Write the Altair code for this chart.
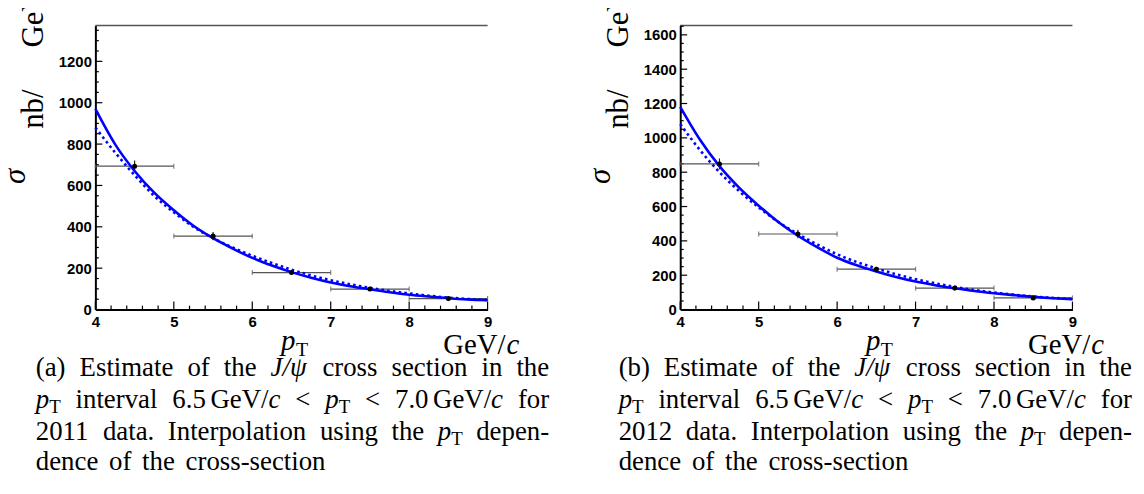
import altair as alt
import pandas as pd

W, H = 1136, 478          # whole canvas (svg) size
PLOT_TOP, PLOT_BOT = 16, 302
PLOT_W = 395

# ---------------- data ----------------
pt_bins = [4.5, 5.5, 6.5, 7.5, 8.5]
bin_half = [0.5, 0.5, 0.5, 0.5, 0.5]
sigma_2011 = [693, 355, 179, 99, 53]
err_2011 = [28, 20, 12, 7, 5]
sigma_2012 = [848, 440, 235, 125, 68]
err_2012 = [32, 25, 14, 8, 5]

curve_pt = [4.0, 4.25, 4.5, 4.75, 5.0, 5.25, 5.5, 5.75, 6.0, 6.25, 6.5,
            6.75, 7.0, 7.25, 7.5, 7.75, 8.0, 8.25, 8.5, 8.75, 9.0]
fit_2011 = [970, 800, 670, 565, 480, 405, 345, 295, 250, 213, 181,
            154, 131, 113, 98, 84, 72, 63, 55, 49, 45]
dot_2011 = [880, 760, 650, 550, 470, 400, 345, 300, 260, 225, 193,
            165, 142, 122, 105, 90, 78, 67, 58, 51, 46]
fit_2012 = [1180, 990, 835, 710, 605, 510, 430, 362, 302, 258, 222,
            190, 163, 142, 124, 108, 95, 84, 74, 66, 60]
dot_2012 = [1080, 930, 800, 690, 595, 510, 440, 378, 322, 277, 240,
            206, 177, 153, 132, 114, 99, 87, 76, 68, 62]

x_labels = [4, 5, 6, 7, 8, 9]
x_minor = [4.2, 4.4, 4.6, 4.8, 5.2, 5.4, 5.6, 5.8, 6.2, 6.4, 6.6, 6.8,
           7.2, 7.4, 7.6, 7.8, 8.2, 8.4, 8.6, 8.8]
y_labels_2011 = [0, 200, 400, 600, 800, 1000, 1200]
y_labels_2012 = [0, 200, 400, 600, 800, 1000, 1200, 1400, 1600]
ymax_2011 = 1373
ymax_2012 = 1654

SERIF = "Liberation Serif"
SANS = "Liberation Sans"


def panel(dx, sigma, err, fit, dot, ymax, ylabels):
    x0 = 88 + dx
    xsc = alt.Scale(domain=[4, 9], range=[x0, x0 + PLOT_W], nice=False, zero=False)
    ysc = alt.Scale(domain=[0, ymax], range=[PLOT_BOT, PLOT_TOP], nice=False, zero=False)
    common = dict(ticks=False, grid=False, title=None, domainColor="black",
                  domainWidth=2, labelFont=SANS, labelFontWeight="bold",
                  labelFontSize=15, labelColor="black", labelFlush=False)
    xax = alt.Axis(orient="bottom", offset=PLOT_BOT - H, values=x_labels,
                   format="d", labelPadding=5, **common)
    yax = alt.Axis(orient="left", offset=-x0, values=ylabels, format="d",
                   labelPadding=4, **common)

    def X(f):
        return alt.X(f"{f}:Q", scale=xsc, axis=xax)

    def Y(f):
        return alt.Y(f"{f}:Q", scale=ysc, axis=yax)

    pts = pd.DataFrame({"pt": pt_bins, "half": bin_half, "s": sigma, "e": err})
    pts["lo"] = pts["pt"] - pts["half"]
    pts["hi"] = pts["pt"] + pts["half"]
    pts["slo"] = pts["s"] - pts["e"]
    pts["shi"] = pts["s"] + pts["e"]
    edges = pd.DataFrame({"edge": list(pts["lo"]) + list(pts["hi"]),
                          "s": list(pts["s"]) * 2})
    curves = pd.DataFrame({"pt": curve_pt, "fit": fit, "dot": dot})

    base_pts = alt.Chart(pts)
    hbar = base_pts.mark_rule(color="#555555", strokeWidth=1.2).encode(
        x=X("lo"), x2="hi", y=Y("s"))
    vbar = base_pts.mark_rule(color="#222222", strokeWidth=1.2).encode(
        x=X("pt"), y=Y("slo"), y2="shi")
    caps = alt.Chart(edges).mark_tick(color="#555555", thickness=1.2, size=5,
                                      orient="vertical").encode(
        x=X("edge"), y=Y("s"))
    dots = base_pts.mark_point(filled=True, shape="circle", size=26,
                               color="black", opacity=1).encode(x=X("pt"), y=Y("s"))
    solid = alt.Chart(curves).mark_line(color="#0000ff", strokeWidth=2.6,
                                        interpolate="monotone").encode(
        x=X("pt"), y=Y("fit"))
    dotted = alt.Chart(curves).mark_line(color="#0000ff", strokeWidth=2.6,
                                         strokeDash=[2.6, 3.2],
                                         interpolate="monotone").encode(
        x=X("pt"), y=Y("dot"))

    # inward-pointing ROOT style ticks
    xmaj = alt.Chart(pd.DataFrame({"v": x_labels})).mark_rule(
        color="black", strokeWidth=1.2).encode(
        x=X("v"), y=alt.value(PLOT_BOT), y2=alt.value(PLOT_BOT - 8))
    xmin = alt.Chart(pd.DataFrame({"v": x_minor})).mark_rule(
        color="black", strokeWidth=1.2).encode(
        x=X("v"), y=alt.value(PLOT_BOT), y2=alt.value(PLOT_BOT - 4))
    y_major = list(ylabels)
    y_minor = [v for v in range(50, int(ymax), 50) if v % 200 != 0]
    ymaj = alt.Chart(pd.DataFrame({"v": y_major})).mark_rule(
        color="black", strokeWidth=1.2).encode(
        y=Y("v"), x=alt.value(x0), x2=alt.value(x0 + 7))
    ymin = alt.Chart(pd.DataFrame({"v": y_minor})).mark_rule(
        color="black", strokeWidth=1.2).encode(
        y=Y("v"), x=alt.value(x0), x2=alt.value(x0 + 3.5))
    top = alt.Chart(pd.DataFrame({"a": [4], "b": [9], "c": [ymax]})).mark_rule(
        color="#555555", strokeWidth=1.5).encode(x=X("a"), x2="b", y=Y("c"))

    return alt.layer(top, xmin, xmaj, ymin, ymaj, hbar, caps, vbar,
                     dotted, solid, dots)


# ---------------- text layout helpers (Times-like advance widths, per em) ----------------
ADV = {" ": .25, "(": .333, ")": .333, "a": .444, "b": .5, "c": .444, "d": .5,
       "e": .444, "f": .333, "g": .5, "h": .5, "i": .278, "l": .278, "m": .778,
       "n": .5, "o": .5, "p": .5, "r": .333, "s": .389, "t": .278, "u": .5,
       "v": .5, "E": .611, "G": .722, "I": .333, "J": .444, "T": .611, "V": .722,
       "/": .278, ".": .25, "-": .333, "<": .564, "ψ": .686}


def width(text, size):
    return sum(ADV.get(ch, .5) for ch in text) * size


FS = 27          # caption font size
SUB = 0.7        # subscript scale
TH = 0.17        # thin space (em)


def piece_w(p):
    txt, st = p
    if st == "gap":
        return TH * FS
    if st == "sub":
        return width(txt, FS * SUB)
    return width(txt, FS)


PT = [("p", "it"), ("T", "sub")]
caption_words = [
    [[("({tag})", "rm")], [("Estimate", "rm")], [("of", "rm")], [("the", "rm")],
     [("J/ψ", "it")], [("cross", "rm")], [("section", "rm")], [("in", "rm")],
     [("the", "rm")]],
    [PT, [("interval", "rm")],
     [("6.5", "rm"), ("", "gap"), ("GeV/", "rm"), ("c", "it")],
     [("<", "rm")], PT, [("<", "rm")],
     [("7.0", "rm"), ("", "gap"), ("GeV/", "rm"), ("c", "it")], [("for", "rm")]],
    [[("{year}", "rm")], [("data.", "rm")], [("Interpolation", "rm")],
     [("using", "rm")], [("the", "rm")], PT, [("depen-", "rm")]],
    [[("dence", "rm")], [("of", "rm")], [("the", "rm")], [("cross-section", "rm")]],
]
CAP_X0, CAP_X1 = 36, 553
CAP_BASE = [377, 409, 441, 472]


def caption_segments(dx, tag, year):
    rows = []
    for li, words in enumerate(caption_words):
        words = [[(t.format(tag=tag, year=year), s) for t, s in w] for w in words]
        wsum = sum(piece_w(p) for w in words for p in w)
        justify = li < len(caption_words) - 1
        gap = (CAP_X1 - CAP_X0 - wsum) / (len(words) - 1) if justify else 0.4 * FS
        x = CAP_X0 + dx
        base = CAP_BASE[li]
        for w in words:
            for p in w:
                txt, st = p
                if st != "gap":
                    yy = base + (5 if st == "sub" else 0)
                    rows.append((x, yy, txt, st, "left"))
                x += piece_w(p)
            x += gap
    return rows


def label_segments(dx):
    return [
        (283 + dx, 351, "p", "bit", "left"), (298 + dx, 357, "T", "bsub", "left"),
        (509 + dx, 355, "GeV/", "brm", "right"), (510 + dx, 355, "c", "bit", "left"),
    ]


all_segs = (label_segments(0) + caption_segments(0, "a", "2011")
            + label_segments(589) + caption_segments(587, "b", "2012"))
seg_df = pd.DataFrame(all_segs, columns=["x", "y", "t", "style", "align"])
seg_df["x"] = seg_df["x"] - 8
seg_df["y"] = seg_df["y"] - 8

styles = {
    "rm": dict(font=SERIF, fontSize=FS),
    "it": dict(font=SERIF, fontSize=FS, fontStyle="italic"),
    "sub": dict(font=SERIF, fontSize=round(FS * SUB)),
    "brm": dict(font=SERIF, fontSize=29),
    "bit": dict(font=SERIF, fontSize=29, fontStyle="italic"),
    "bsub": dict(font=SERIF, fontSize=20),
}

text_layers = []
for st, props in styles.items():
    for al in ["left", "right"]:
        sub = seg_df[(seg_df["style"] == st) & (seg_df["align"] == al)]
        if len(sub) == 0:
            continue
        text_layers.append(
            alt.Chart(sub).mark_text(align=al, baseline="alphabetic",
                                     color="black", **props).encode(
                x=alt.X("x:Q", scale=None, axis=None),
                y=alt.Y("y:Q", scale=None, axis=None),
                text="t:N"))

# rotated y-axis titles:  sigma ... nb/ GeV
ysig = pd.DataFrame({"x": [25 - 8, 25 + 589 - 8], "y": [176 - 8] * 2, "t": ["σ"] * 2})
ynb = pd.DataFrame({"x": [43 - 8, 43 + 589 - 8], "y": [128 - 8] * 2, "t": ["nb/"] * 2})
ygev = pd.DataFrame({"x": [43 - 8, 43 + 589 - 8], "y": [46 - 8] * 2, "t": ["GeV"] * 2})
for df, al, extra in [(ysig, "center", dict(fontStyle="italic")),
                      (ynb, "left", {}), (ygev, "left", {})]:
    text_layers.append(
        alt.Chart(df).mark_text(angle=270, align=al, baseline="alphabetic",
                                font=SERIF, fontSize=31, color="black",
                                **extra).encode(
            x=alt.X("x:Q", scale=None, axis=None),
            y=alt.Y("y:Q", scale=None, axis=None), text="t:N"))

left = panel(0, sigma_2011, err_2011, fit_2011, dot_2011, ymax_2011, y_labels_2011)
right = panel(589, sigma_2012, err_2012, fit_2012, dot_2012, ymax_2012, y_labels_2012)

chart = alt.layer(left, right, *text_layers).resolve_scale(
    x="independent", y="independent"
).properties(
    width=W, height=H, padding=0,
    autosize=alt.AutoSizeParams(type="none"),
).configure_view(stroke=None)

chart.save("out.html", embed_options={"renderer": "svg", "actions": False})
